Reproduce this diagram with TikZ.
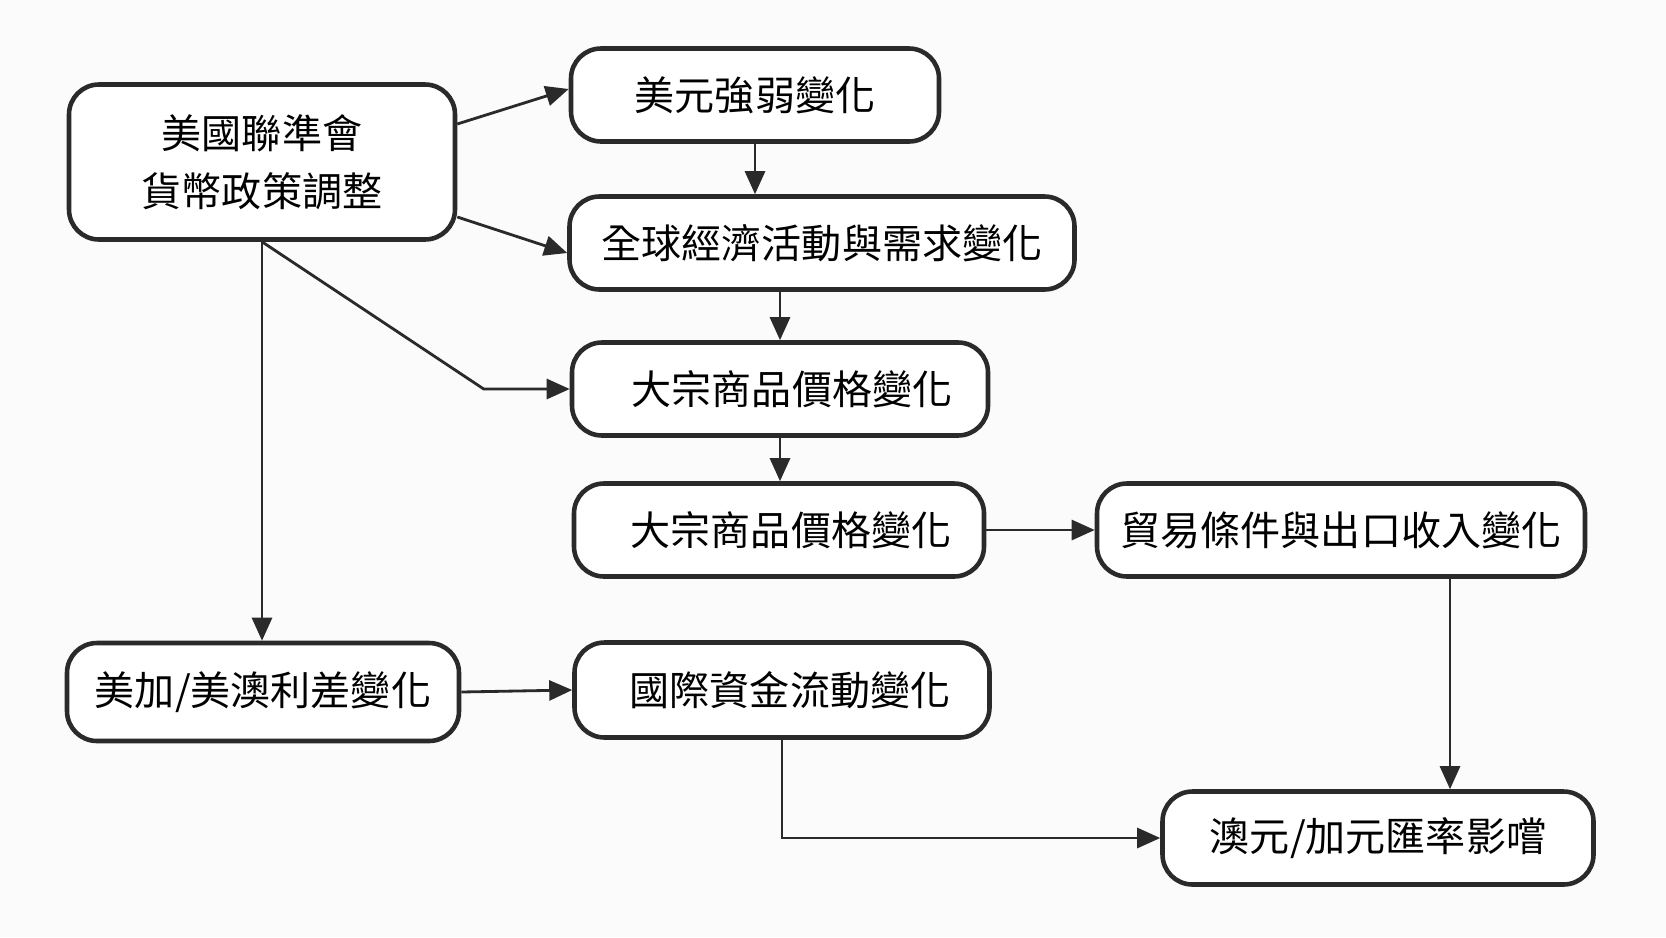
\documentclass[tikz,border=0pt]{standalone}
\usepackage{fontspec}
\setmainfont{Noto Sans CJK TC}
\usepackage{xcolor}
\usetikzlibrary{arrows.meta,backgrounds,calc}
\definecolor{inkline}{HTML}{2A2A2A}
\definecolor{paper}{HTML}{FBFBFB}

\begin{document}
\begin{tikzpicture}[
  >=Latex,
  every node/.style={font=\fontsize{11.4pt}{16.5pt}\selectfont,align=center,text=black},
  link/.style={-{Triangle[length=2.3mm,width=2mm]},line width=0.8pt,draw=inkline},
  proc/.style={draw=inkline,fill=white,line width=1.3pt,
               rounded corners=0.3cm,minimum height=0.93cm,inner sep=4pt}
]
  \fill[paper] (0,0) rectangle (16.66,9.37);
  \useasboundingbox (0,0) rectangle (16.66,9.37);

  \node[proc,minimum width=3.86cm,minimum height=1.55cm] (fed) at (2.62,7.75)
    {美國聯準會\\貨幣政策調整};
  \node[proc,minimum width=3.68cm] (usd) at (7.55,8.42) {美元強弱變化};
  \node[proc,minimum width=5.05cm] (demand) at (8.22,6.94) {全球經濟活動與需求變化};
  \node[proc,minimum width=4.16cm] (cmdA) at (7.80,5.48) {\hspace*{0.24cm}大宗商品價格變化};
  \node[proc,minimum width=4.10cm] (cmdB) at (7.79,4.07) {\hspace*{0.24cm}大宗商品價格變化};
  \node[proc,minimum width=4.88cm] (trade) at (13.41,4.07) {貿易條件與出口收入變化};
  \node[proc,minimum width=3.92cm,minimum height=0.98cm] (spread) at (2.63,2.45)
    {美加/美澳利差變化};
  \node[proc,minimum width=4.15cm,minimum height=0.95cm] (capital) at (7.82,2.47)
    {\hspace*{0.16cm}國際資金流動變化};
  \node[proc,minimum width=4.31cm] (fx) at (13.78,0.99) {澳元/加元匯率影嚐};

  \draw[link] ([yshift=0.38cm]fed.east) -- ([yshift=0.06cm]usd.west);
  \draw[link] ([yshift=-0.55cm]fed.east) -- ([yshift=-0.1cm]demand.west);
  \draw[link] (fed.south) -- ([xshift=-0.86cm]cmdA.west) -- (cmdA.west);
  \draw[link] (fed.south) -- (fed.south |- spread.north);
  \draw[link] (usd.south) -- (usd.south |- demand.north);
  \draw[link] (cmdA.north |- demand.south) -- (cmdA.north);
  \draw[link] (cmdA.south) -- (cmdA.south |- cmdB.north);
  \draw[link] (cmdB.east) -- (trade.west);
  \draw[link] ([xshift=1.09cm]trade.south) coordinate (tr)
    -- (tr |- fx.north);
  \draw[link] (spread.east) -- (capital.west);
  \draw[link] (capital.south) |- (fx.west);
\end{tikzpicture}
\end{document}
